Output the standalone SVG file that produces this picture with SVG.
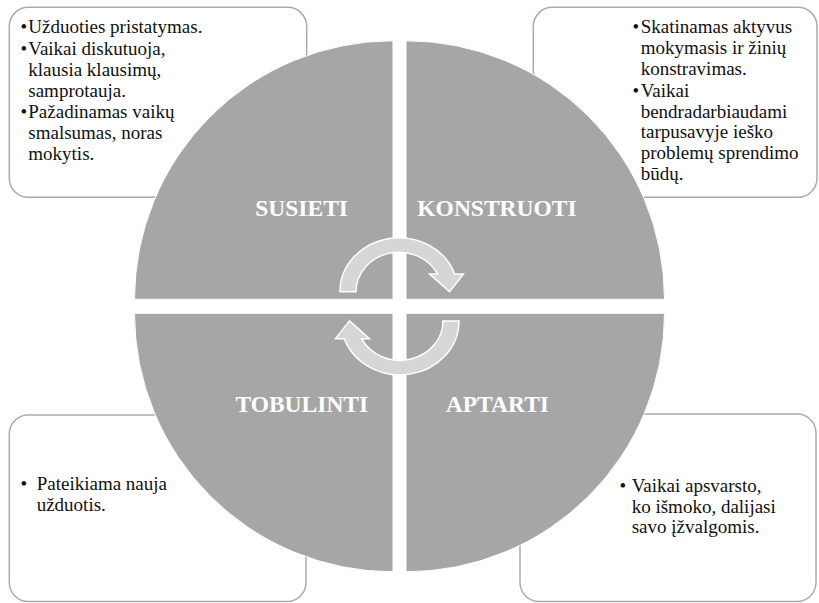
<svg xmlns="http://www.w3.org/2000/svg" width="819" height="603" viewBox="0 0 819 603">
<style>
.box{fill:#ffffff;stroke:#ababab;stroke-width:1.5}
.t{font-family:"Liberation Serif","Times New Roman",serif;font-size:19px;fill:#111111}
.q{fill:#a6a6a6;stroke:#ffffff;stroke-width:1}
.lbl{font-family:"Liberation Serif","Times New Roman",serif;font-size:23.5px;font-weight:bold;fill:#ffffff;text-anchor:middle}
.arr{fill:#d6d6d6;stroke:#ffffff;stroke-width:1.5;stroke-linejoin:miter}
</style>
<rect width="819" height="603" fill="#ffffff"/>
<g id="box-tl">
<rect class="box" x="9.3" y="7.3" width="297.4" height="190" rx="19"/>
<text class="t"><tspan x="20.5" y="33.3">•</tspan><tspan x="28.3" y="33.3">Užduoties pristatymas.</tspan></text>
<text class="t"><tspan x="20.5" y="55">•</tspan><tspan x="28.3" y="55">Vaikai diskutuoja,</tspan><tspan x="28.3" y="75.8">klausia klausimų,</tspan><tspan x="28.3" y="96.7">samprotauja.</tspan></text>
<text class="t"><tspan x="20.5" y="118.3">•</tspan><tspan x="28.3" y="118.3">Pažadinamas vaikų</tspan><tspan x="28.3" y="139.2">smalsumas, noras</tspan><tspan x="28.3" y="160">mokytis.</tspan></text>
</g>
<g id="box-tr">
<rect class="box" x="533.3" y="7.3" width="283.7" height="190" rx="19"/>
<text class="t"><tspan x="632.5" y="33.3">•</tspan><tspan x="640.7" y="33.3">Skatinamas aktyvus</tspan><tspan x="640.7" y="54">mokymasis ir žinių</tspan><tspan x="640.7" y="74.8">konstravimas.</tspan></text>
<text class="t"><tspan x="632.5" y="96.7">•</tspan><tspan x="640.7" y="96.7">Vaikai</tspan><tspan x="640.7" y="117.5">bendradarbiaudami</tspan><tspan x="640.7" y="138.3">tarpusavyje ieško</tspan><tspan x="640.7" y="159.2">problemų sprendimo</tspan><tspan x="640.7" y="180">būdų.</tspan></text>
</g>
<g id="box-bl">
<rect class="box" x="9.3" y="415" width="296.7" height="186.5" rx="19"/>
<text class="t"><tspan x="20.5" y="490">•</tspan><tspan x="36.7" y="490">Pateikiama nauja</tspan><tspan x="36.7" y="511">užduotis.</tspan></text>
</g>
<g id="box-br">
<rect class="box" x="520" y="414" width="296" height="187.5" rx="19"/>
<text class="t"><tspan x="619.5" y="491.7">•</tspan><tspan x="631.7" y="491.7">Vaikai apsvarsto,</tspan><tspan x="631.7" y="512.5">ko išmoko, dalijasi</tspan><tspan x="631.7" y="533.3">savo įžvalgomis.</tspan></text>
</g>
<g id="susieti">
<path class="q" d="M393 299.3 L134.5 299.3 A258.5 258.5 0 0 1 393 40.8 Z"/>
<text class="lbl" x="301.6" y="216">SUSIETI</text>
</g>
<g id="konstruoti">
<path class="q" d="M406 299.3 L406 40.8 A258.5 258.5 0 0 1 664.5 299.3 Z"/>
<text class="lbl" x="497" y="216">KONSTRUOTI</text>
</g>
<g id="aptarti">
<path class="q" d="M406 313.3 L664.5 313.3 A258.5 258.5 0 0 1 406 571.8 Z"/>
<text class="lbl" x="497.4" y="412.3">APTARTI</text>
</g>
<g id="tobulinti">
<path class="q" d="M393 313.3 L393 571.8 A258.5 258.5 0 0 1 134.5 313.3 Z"/>
<text class="lbl" x="301.8" y="412.3">TOBULINTI</text>
</g>
<g id="connectors">
<path id="arrow-top" class="arr" d="M340 291.7 A59 54 0 0 1 454.7 273.9 L463.5 273.9 L449.5 291.7 L429.5 273.9 L437.4 273.9 A43 39.4 0 0 0 356 291.7 Z"/>
<path id="arrow-bottom" class="arr" transform="rotate(180 399.5 306.3)" d="M340 291.7 A59 54 0 0 1 454.7 273.9 L463.5 273.9 L449.5 291.7 L429.5 273.9 L437.4 273.9 A43 39.4 0 0 0 356 291.7 Z"/>
</g>
</svg>
